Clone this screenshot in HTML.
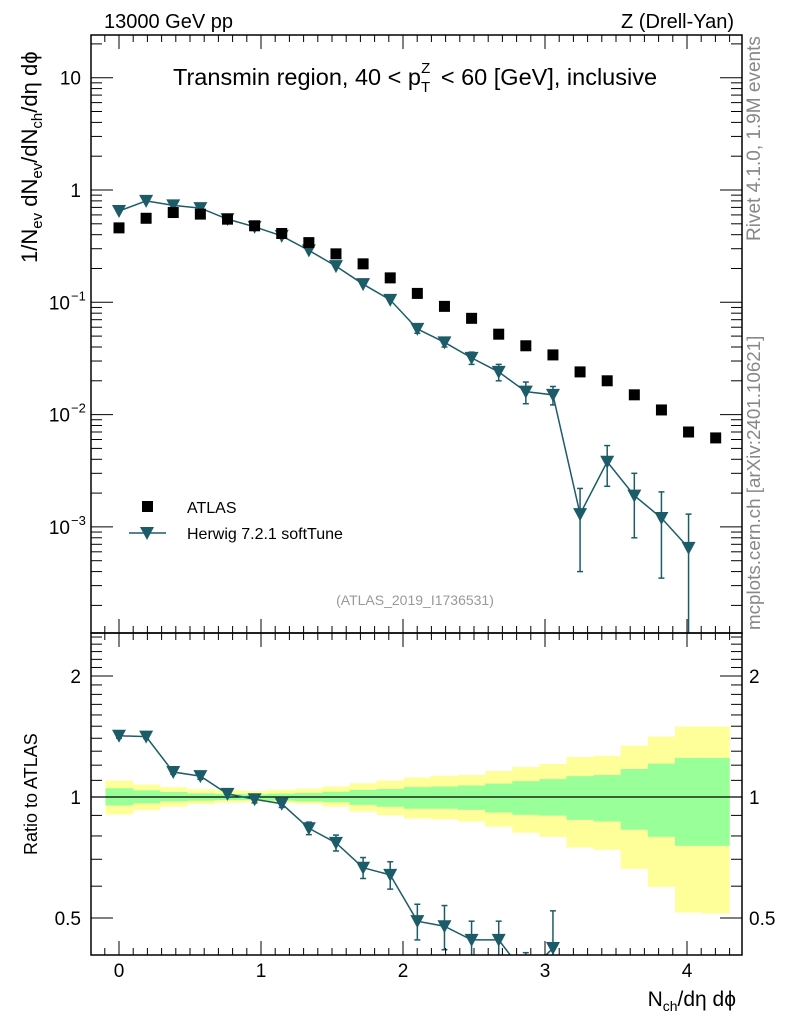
<!DOCTYPE html>
<html><head><meta charset="utf-8"><style>
body{margin:0;background:#fff;}
svg{display:block;font-family:"Liberation Sans",sans-serif;}
</style></head><body>
<svg id="c" width="786" height="1024" viewBox="0 0 786 1024"></svg>
<script>
const xs = [0,0.191,0.382,0.573,0.764,0.955,1.146,1.337,1.528,1.719,1.91,2.101,2.292,2.483,2.674,2.865,3.056,3.247,3.438,3.629,3.82,4.011,4.202];
const atlas = [0.46,0.56,0.63,0.61,0.55,0.48,0.41,0.34,0.27,0.22,0.165,0.12,0.092,0.072,0.052,0.041,0.034,0.024,0.020,0.015,0.011,0.0070,0.0062];
const herwig = [0.65,0.80,0.73,0.69,0.55,0.47,0.39,0.29,0.21,0.145,0.105,0.058,0.044,0.032,0.024,0.016,0.015,0.0013,0.0038,0.0019,0.0012,0.00065];
const herwigErr = [0.01,0.01,0.01,0.01,0.01,0.01,0.01,0.01,0.008,0.007,0.006,0.005,0.004,0.004,0.004,0.0035,0.0028,0.0009,0.0015,0.0011,0.00085,0.00065];
const ratioH = [1.42,1.413,1.154,1.127,1.018,0.987,0.962,0.836,0.769,0.667,0.640,0.491,0.477,0.441,0.441,0.36,0.421];
const ratioHErr = [0.02,0.015,0.015,0.02,0.02,0.02,0.02,0.03,0.035,0.04,0.05,0.05,0.06,0.05,0.05,0.05,0.1];
const yelUp = [1.099,1.074,1.058,1.045,1.040,1.035,1.043,1.049,1.062,1.082,1.099,1.118,1.130,1.134,1.160,1.188,1.208,1.258,1.266,1.341,1.413,1.497,1.497];
const yelDn = [0.905,0.927,0.946,0.960,0.968,0.971,0.966,0.960,0.946,0.920,0.901,0.884,0.879,0.869,0.844,0.815,0.796,0.749,0.739,0.663,0.598,0.516,0.513];
const grnUp = [1.051,1.039,1.029,1.021,1.018,1.016,1.020,1.023,1.031,1.041,1.047,1.058,1.062,1.068,1.080,1.095,1.108,1.127,1.134,1.174,1.211,1.251,1.251];
const grnDn = [0.953,0.964,0.975,0.979,0.983,0.983,0.979,0.975,0.971,0.956,0.946,0.935,0.935,0.929,0.915,0.903,0.899,0.877,0.869,0.829,0.796,0.756,0.756];
const xTicks = [0,1,2,3,4];
const yTicksMain = [["10",1],["1",0],["10","-1"],["10","-2"],["10","-3"]];
const ratioTicks = ["2","1","0.5"];

const NS="http://www.w3.org/2000/svg";
const svg=document.getElementById('c');
function el(tag,attrs,parent,text){const e=document.createElementNS(NS,tag);for(const k in attrs)e.setAttribute(k,attrs[k]);if(text!==undefined)e.textContent=text;(parent||svg).appendChild(e);return e;}
const L=91,R=742,T=35,MB=633,RB=955;
const X=v=>119+v*142;
const Y=v=>190-Math.log10(v)*112.3;
const YR=v=>797-Math.log10(v)*402;
const hw=0.0955;
const teal="#1c5c69";

const defs=el('defs',{});
const cp1=el('clipPath',{id:'cm'},defs);el('rect',{x:L,y:T,width:R-L,height:MB-T},cp1);
const cp2=el('clipPath',{id:'cr'},defs);el('rect',{x:L,y:MB,width:R-L,height:RB-MB},cp2);

const gR=el('g',{'clip-path':'url(#cr)'});


xs.forEach((x,i)=>{
  const r=el('rect',{x:X(x-hw),y:YR(yelUp[i]),width:X(x+hw)-X(x-hw)+0.5,height:YR(yelDn[i])-YR(yelUp[i]),fill:'#ffff99'},gR);
  
  
});
xs.forEach((x,i)=>{
  const r=el('rect',{x:X(x-hw),y:YR(grnUp[i]),width:X(x+hw)-X(x-hw)+0.5,height:YR(grnDn[i])-YR(grnUp[i]),fill:'#99ff99'},gR);
  
  
});
el('line',{x1:L,x2:R,y1:YR(1),y2:YR(1),stroke:'#000','stroke-width':1.3},gR);

const gRH=el('g',{'clip-path':'url(#cr)'});


el('polyline',{points:ratioH.map((v,i)=>X(xs[i])+','+YR(v)).join(' '),fill:'none',stroke:teal,'stroke-width':1.5},gRH);
ratioH.forEach((v,i)=>{
  const x=X(xs[i]);
  const y1=YR(v+ratioHErr[i]),y2=YR(Math.max(v-ratioHErr[i],0.01));
  el('line',{x1:x,x2:x,y1:y1,y2:y2,stroke:teal,'stroke-width':1.5},gRH);
  el('line',{x1:x-3,x2:x+3,y1:y1,y2:y1,stroke:teal,'stroke-width':1.5},gRH);
  el('line',{x1:x-3,x2:x+3,y1:y2,y2:y2,stroke:teal,'stroke-width':1.5},gRH);
  const y=YR(v);
  const p=el('polygon',{points:`${x-7},${y-6} ${x+7},${y-6} ${x},${y+7}`,fill:teal},gRH);
  
  
});

const gM=el('g',{'clip-path':'url(#cm)'});


el('polyline',{points:herwig.map((v,i)=>X(xs[i])+','+Y(v)).join(' '),fill:'none',stroke:teal,'stroke-width':1.5},gM);
herwig.forEach((v,i)=>{
  const x=X(xs[i]);
  const lo=v-herwigErr[i];
  const y1=Y(v+herwigErr[i]),y2=lo>0?Y(lo):MB+10;
  if(y2-y1>6){
    el('line',{x1:x,x2:x,y1:y1,y2:y2,stroke:teal,'stroke-width':1.5},gM);
    el('line',{x1:x-3,x2:x+3,y1:y1,y2:y1,stroke:teal,'stroke-width':1.5},gM);
    el('line',{x1:x-3,x2:x+3,y1:y2,y2:y2,stroke:teal,'stroke-width':1.5},gM);
  }
  const y=Y(v);
  const p=el('polygon',{points:`${x-7},${y-6} ${x+7},${y-6} ${x},${y+7}`,fill:teal},gM);
  
  
});
atlas.forEach((v,i)=>{
  const x=X(xs[i]),y=Y(v);
  const r=el('rect',{x:x-5.5,y:y-5.5,width:11,height:11,fill:'#000'},gM);
  
  
});

el('rect',{x:L,y:T,width:R-L,height:MB-T,fill:'none',stroke:'#000','stroke-width':1.5});
el('rect',{x:L,y:MB,width:R-L,height:RB-MB,fill:'none',stroke:'#000','stroke-width':1.5});

const tk=el('g',{stroke:'#000','stroke-width':1});
for(let k=-1;k<=44;k++){
  const v=k/10;const x=X(v);if(x<L+1||x>R-1)continue;
  const major=k%10===0;const len=major?14:7;
  [[T,1],[MB,-1],[MB,1],[RB,-1]].forEach(([y0,d])=>el('line',{x1:x,x2:x,y1:y0,y2:y0+d*len},tk));
}
for(let e=-4;e<=1;e++){
  for(let m=1;m<=9;m++){
    const v=m*Math.pow(10,e);const y=Y(v);if(y<T+1||y>MB-1)continue;
    const len=m===1?22:11;
    el('line',{x1:L,x2:L+len,y1:y,y2:y},tk);el('line',{x1:R,x2:R-len,y1:y,y2:y},tk);
  }
}
[0.5,0.6,0.7,0.8,0.9,1,1.1,1.2,1.3,1.4,1.5,1.6,1.7,1.8,1.9,2,2.1,2.2,2.3,2.4,2.5].forEach(v=>{
  const y=YR(v);if(y<MB+1||y>RB-1)return;
  const len=(v===0.5||v===1||v===2)?22:11;
  el('line',{x1:L,x2:L+len,y1:y,y2:y},tk);el('line',{x1:R,x2:R-len,y1:y,y2:y},tk);
});

xTicks.forEach(v=>{
  const t=el('text',{x:X(v),y:977,'font-size':19,'text-anchor':'middle'},svg,String(v));
  
  
});
yTicksMain.forEach(([b,e])=>{
  const y=Y(Math.pow(10,+e));
  const t=el('text',{x:e==="-1"||e==="-2"||e==="-3"?70:81,y:y+7,'font-size':19,'text-anchor':'end'},svg,b);
  
  
  if(e!==1&&e!==0){el('text',{x:71,y:y-2,'font-size':13},svg,'\u2212'+String(e).slice(1));}
});
ratioTicks.forEach(s=>{
  const y=YR(parseFloat(s))+7;
  const a=el('text',{x:81,y:y,'font-size':19,'text-anchor':'end'},svg,s);
  
  
  const b=el('text',{x:749,y:y,'font-size':19},svg,s);
  
  
});
</script>
<div style="position:absolute;left:0;top:0;width:786px;height:1024px;pointer-events:none;">
<svg width="786" height="1024" style="position:absolute;left:0;top:0;font-family:'Liberation Sans','DejaVu Sans',sans-serif;">
<text x="104" y="28" font-size="20">13000 GeV pp</text>
<text x="734" y="28" font-size="20" text-anchor="end">Z (Drell-Yan)</text>
<text x="173" y="85" font-size="23.5">Transmin region, 40 &lt; p<tspan font-size="15" dy="7">T</tspan><tspan font-size="15" dx="-9" dy="-19">Z</tspan><tspan dx="4" dy="12"> &lt; 60 [GeV], inclusive</tspan></text>
<text transform="translate(760,241) rotate(-90)" font-size="19" fill="#888">Rivet 4.1.0,  1.9M events</text>
<text transform="translate(760,630) rotate(-90)" font-size="18.8" fill="#888">mcplots.cern.ch [arXiv:2401.10621]</text>
<text transform="translate(37,263) rotate(-90)" font-size="22">1/N<tspan font-size="15" dy="5">ev</tspan><tspan dy="-5"> dN</tspan><tspan font-size="15" dy="5">ev</tspan><tspan dy="-5">/dN</tspan><tspan font-size="15" dy="5">ch</tspan><tspan dy="-5">/dη dϕ</tspan></text>
<text transform="translate(37,855) rotate(-90)" font-size="18">Ratio to ATLAS</text>
<text x="736" y="1006" font-size="21" text-anchor="end">N<tspan font-size="14" dy="5">ch</tspan><tspan dy="-5">/dη dϕ</tspan></text>
<text x="415" y="605" font-size="14" fill="#999" text-anchor="middle">(ATLAS_2019_I1736531)</text>
<g>
<rect x="142" y="501" width="11" height="11" fill="#000"/>
<text x="187" y="513" font-size="16">ATLAS</text>
<line x1="129" x2="166" y1="533" y2="533" stroke="#1c5c69" stroke-width="1.5"/>
<polygon points="140,527 154,527 147,540" fill="#1c5c69"/>
<text x="187" y="539" font-size="16">Herwig 7.2.1 softTune</text>
</g>
</svg></div>
</body></html>
